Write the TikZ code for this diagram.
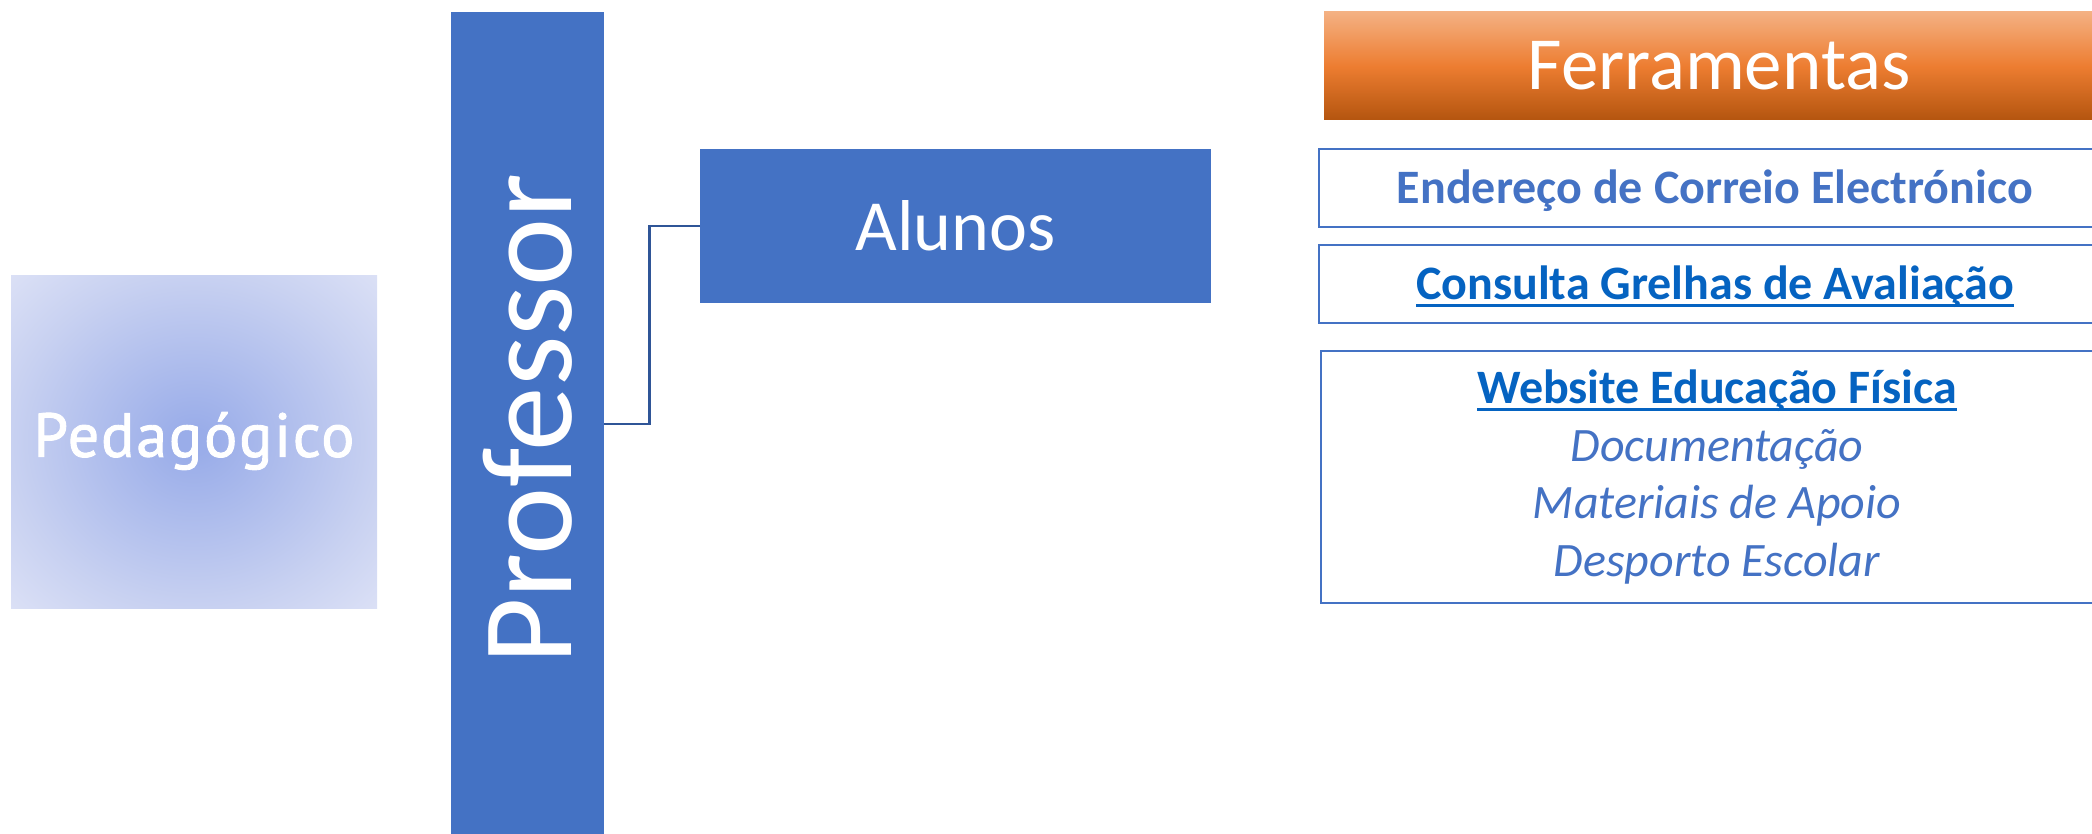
\documentclass[tikz,border=0pt]{standalone}
\usepackage{fontspec}
\setmainfont{Carlito}
\newfontfamily\pedfont[FakeBold=1.5,LetterSpace=3]{PT Sans}
\definecolor{accblue}{HTML}{4472C4}
\definecolor{linkblue}{HTML}{0563C1}
\definecolor{connblue}{HTML}{2F5597}
\definecolor{pedin}{HTML}{9AADE9}
\definecolor{pedmid}{HTML}{C8D1F1}
\definecolor{pedout}{HTML}{DCE1F6}
\definecolor{orA}{HTML}{F4B183}
\definecolor{orB}{HTML}{ED7D31}
\definecolor{orC}{HTML}{B4550F}
\pgfdeclareradialshading{pedshade}{\pgfpoint{0bp}{0bp}}{color(0bp)=(pedin); color(2bp)=(pedin); color(25bp)=(pedmid); color(36bp)=(pedout); color(50bp)=(pedout)}
\newcommand\ulink[1]{\setbox0\hbox{#1}\rlap{\color{linkblue}\rule[-0.16em]{\wd0}{0.065em}}\box0}
\tikzset{
  bluebox/.style={fill=accblue, draw=none, text=white, inner sep=0pt},
  toolbox/.style={draw=accblue, line width=1.3pt, fill=white, inner sep=0pt, minimum width=792pt},
  tooltext/.style={font=\bfseries\fontsize{48}{54}\selectfont, inner sep=0pt},
  conn/.style={draw=connblue, line width=2.8pt},
}
\begin{document}
\begin{tikzpicture}[x=1pt,y=-1pt]
\useasboundingbox (0,0) rectangle (2092,834);
\clip (0,0) rectangle (2092,834);
% Pedagogico
\node (ped) [shading=pedshade, draw=none, minimum width=366pt, minimum height=333pt, inner sep=0pt] at (194,441.5) {};
\node (pedtxt) [text=white, font=\pedfont\fontsize{62}{70}\selectfont] at (194,441) {Pedagógico};
% Professor
\node (prof) [bluebox, minimum width=153pt, minimum height=840pt] at (527.5,432) {};
\node (proftxt) [text=white, rotate=90, font=\fontsize{129}{140}\selectfont] at (527.5,419) {Professor};
% Alunos
\node (alunos) [bluebox, minimum width=511pt, minimum height=154pt, font=\fontsize{72}{80}\selectfont] at (955.5,226) {Alunos};
% connector
\coordinate (cstart) at (prof.east |- 0,424);
\draw[conn] (cstart) -- ++(45,0) |- (alunos.west);
% Ferramentas
\node (ferr) [top color=orA, bottom color=orC, middle color=orB, minimum width=790pt, minimum height=108pt, inner sep=0pt] at (1719,66) {};
\node (ferrtxt) [text=white, font=\fontsize{75}{80}\selectfont] at (1719,66) {Ferramentas};
% tool boxes
\node (mail) [toolbox, minimum height=78pt] at (1715,188) {};
\node (mailtxt) [tooltext, text=accblue] at (1715,191) {Endereço de Correio Electrónico};
\node (grel) [toolbox, minimum height=78pt] at (1715,284) {};
\node (greltxt) [tooltext, text=linkblue] at (1715,287) {\ulink{Consulta Grelhas de Avaliação}};
\node (web) [toolbox, minimum height=252pt, align=center, text=accblue, font=\fontsize{48}{57.5}\selectfont] at (1717,477)
  {{\color{linkblue}\bfseries\ulink{Website Educação Física}}\\ \textit{Documentação}\\ \textit{Materiais de Apoio}\\ \textit{Desporto Escolar}};
\end{tikzpicture}
\end{document}
